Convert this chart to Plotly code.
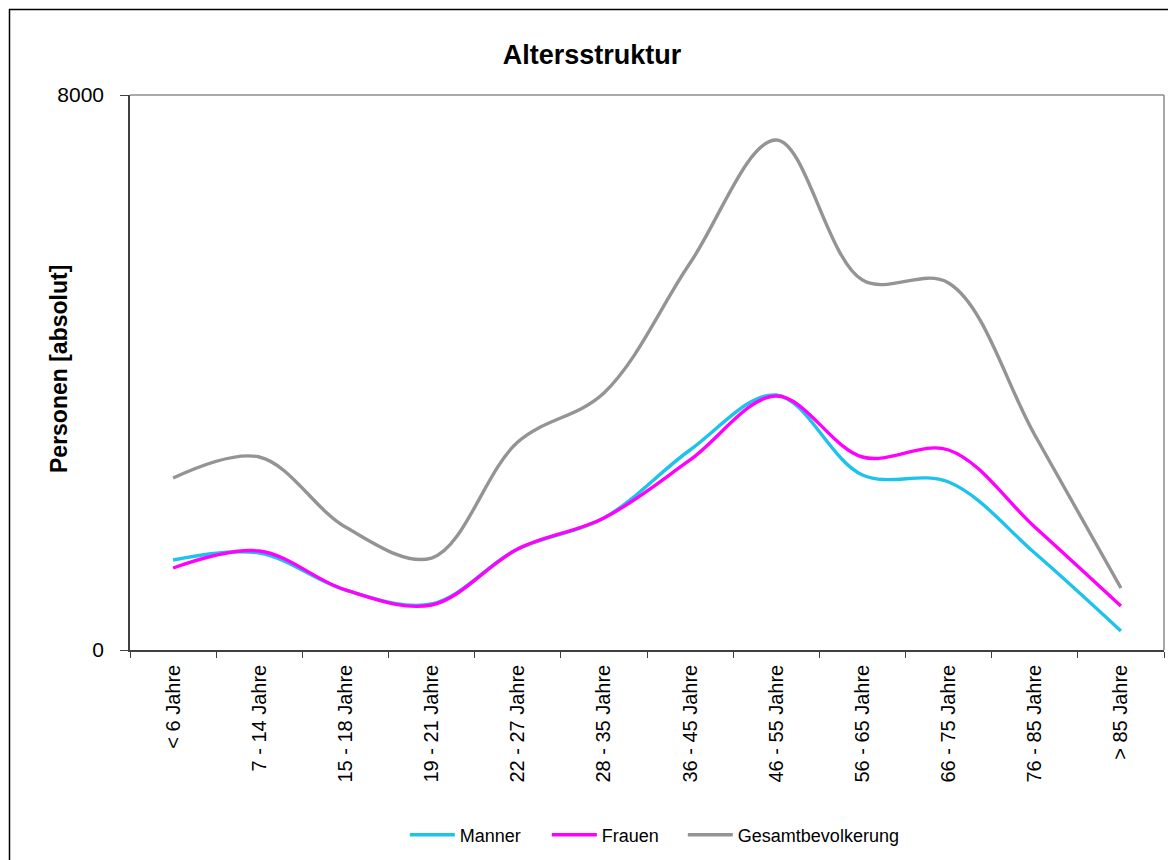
import plotly.graph_objects as go

categories = ["< 6 Jahre", "7 - 14 Jahre", "15 - 18 Jahre", "19 - 21 Jahre", "22 - 27 Jahre",
              "28 - 35 Jahre", "36 - 45 Jahre", "46 - 55 Jahre", "56 - 65 Jahre",
              "66 - 75 Jahre", "76 - 85 Jahre", "> 85 Jahre"]
maenner = [1297, 1398, 865, 663, 1456, 1903, 2883, 3676, 2523, 2422, 1398, 274]
frauen = [1182, 1427, 865, 649, 1456, 1903, 2739, 3661, 2782, 2883, 1773, 634]
gesamt = [2479, 2782, 1773, 1326, 2998, 3705, 5578, 7351, 5333, 5290, 3099, 894]

series = [("Manner", maenner, "#1EC3EC", "legend"), ("Frauen", frauen, "#FF00FF", "legend"),
          ("Gesamtbevolkerung", gesamt, "#949494", "legend2")]

fig = go.Figure()
for name, vals, col, lg in series:
    fig.add_trace(go.Scatter(x=categories, y=vals, name=name, mode="lines", legend=lg,
                             line=dict(color=col, width=3.4, shape="spline", smoothing=1.0)))

# page offset of 8px (html body margin) -> figure coordinates
OFF = 8
W, H = 1176 - OFF, 860 - OFF
L, R, T, B = 130 - OFF, 1164 - OFF, 95 - OFF, 650 - OFF

def px(x):  # page x -> paper x
    return (x - OFF - L) / (R - L)

def py(y):  # page y -> paper y
    return (B - (y - OFF)) / (B - T)

legend_common = dict(orientation="h", yanchor="middle", y=py(835), font=dict(size=18),
                     itemwidth=45, tracegroupgap=0, bgcolor="rgba(0,0,0,0)", xanchor="left")

fig.update_layout(
    width=W, height=H,
    margin=dict(l=L, r=W - R, t=T, b=H - B, autoexpand=False),
    paper_bgcolor="white", plot_bgcolor="white",
    font=dict(family="Liberation Sans, Arial, sans-serif", size=14, color="#000000"),
    title=dict(text="<b>Altersstruktur</b>", x=0.5, xref="container", xanchor="center",
               y=1 - (55 - OFF) / H, yref="container", yanchor="middle",
               font=dict(size=27, color="#000000")),
    showlegend=True,
    legend=dict(x=px(410) - 0.005, entrywidth=82, entrywidthmode="pixels", **legend_common),
    legend2=dict(x=px(688) - 0.005, **legend_common),
    xaxis=dict(type="category", range=[-0.5, 11.5], showgrid=False, tickson="boundaries",
               ticks="outside", ticklen=6, tickcolor="#404040", tickwidth=1,
               showline=True, linecolor="#404040", linewidth=1.5, ticklabelstandoff=5,
               tickangle=-90, tickfont=dict(size=20), zeroline=False, automargin=False),
    yaxis=dict(range=[0, 8000], tickvals=[0, 8000], ticktext=["0", "8000"], showgrid=False,
               ticks="outside", ticklen=8, tickcolor="#404040", ticklabelstandoff=12,
               showline=True, linecolor="#404040", linewidth=1.5, zeroline=False,
               tickfont=dict(size=21), automargin=False),
    annotations=[
        dict(text="<b>Personen [absolut]</b>", xref="paper", yref="paper",
             x=px(59), y=py(369), xanchor="center", yanchor="middle", textangle=-90,
             showarrow=False, font=dict(size=23, color="#000000")),
    ],
    shapes=[
        # outer chart border
        dict(type="rect", xref="paper", yref="paper", x0=px(9.5), x1=px(1200), y0=py(900), y1=py(9.5),
             line=dict(color="#000000", width=1.5), fillcolor="rgba(0,0,0,0)", layer="below"),
        # plot area border (top & right)
        dict(type="line", xref="paper", yref="paper", x0=0, x1=1, y0=1, y1=1,
             line=dict(color="#8C8C8C", width=1.5)),
        dict(type="line", xref="paper", yref="paper", x0=1, x1=1, y0=0, y1=1,
             line=dict(color="#8C8C8C", width=1.5)),
    ],
)

fig.write_html("out.html")
